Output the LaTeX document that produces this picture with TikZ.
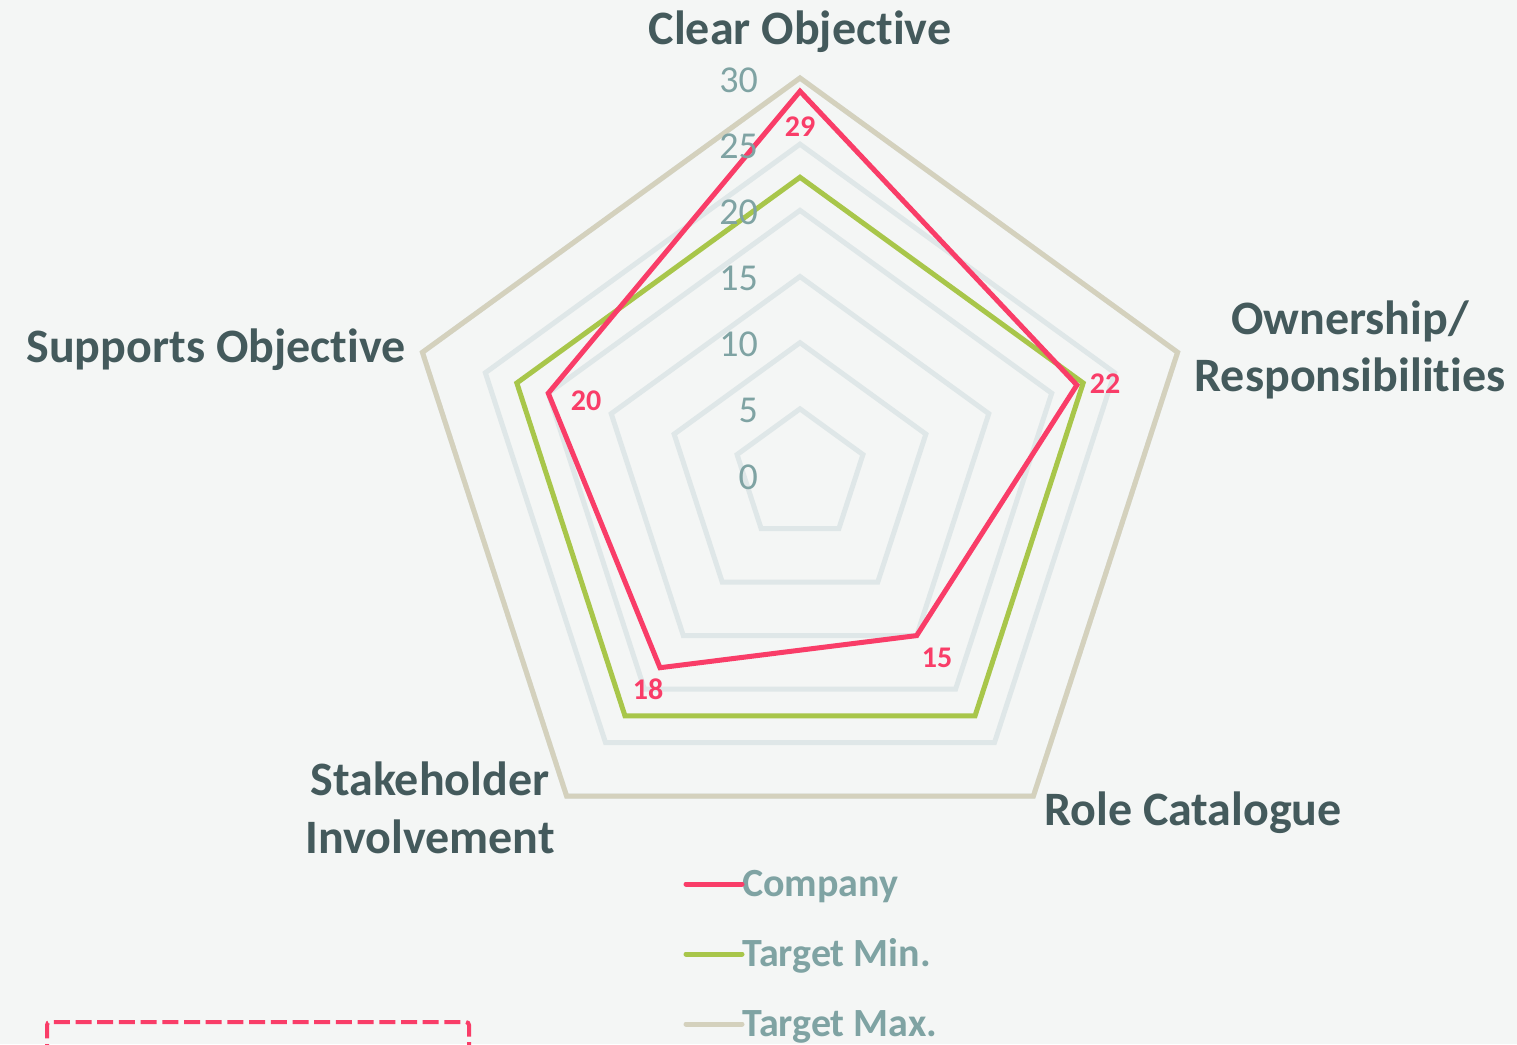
\documentclass[tikz,border=0pt]{standalone}
\usepackage{fontspec}
\setmainfont{Carlito}[Ligatures={NoCommon}]
\definecolor{bgc}{HTML}{F4F6F5}
\definecolor{gridc}{HTML}{DFE7E8}
\definecolor{pinkc}{HTML}{F93D68}
\definecolor{greenc}{HTML}{A8C64A}
\definecolor{beigec}{HTML}{D4D1BD}
\definecolor{catc}{HTML}{445A5C}
\definecolor{axc}{HTML}{7FA3A3}
\tikzset{
  gridline/.style={draw=gridc, line width=5pt},
  company/.style={draw=pinkc, line width=5pt},
  tmin/.style={draw=greenc, line width=5pt},
  tmax/.style={draw=beigec, line width=5pt},
  cat/.style={text=catc, font=\fontsize{48}{56}\selectfont\bfseries, inner sep=0pt, anchor=base, align=center},
  axlab/.style={text=axc, font=\fontsize{38}{40}\selectfont, inner sep=0pt, anchor=base east},
  dlab/.style={text=pinkc, font=\fontsize{30}{32}\selectfont\bfseries, inner sep=0pt, anchor=base},
  leglab/.style={text=axc, font=\fontsize{40}{42}\selectfont\bfseries, inner sep=0pt, anchor=base west},
  legline/.style={line width=5pt, line cap=round},
  dashbox/.style={draw=pinkc, line width=4pt, dash pattern=on 16pt off 5.7pt, rounded corners=3pt}
}
\begin{document}
\begin{tikzpicture}[x=1pt,y=-1pt]
\fill[bgc] (0,0) rectangle (1517,1044);
\useasboundingbox (0,0) rectangle (1517,1044);
\def\u{13.233}
\begin{scope}[shift={(800,475)}]
  % grid rings
  \foreach \k in {5,10,15,20,25,30}{
    \pgfmathsetmacro\r{\k*\u}
    \draw[gridline] (-90:\r) -- (-18:\r) -- (54:\r) -- (126:\r) -- (198:\r) -- cycle;
  }
  % data coordinates
  \foreach \n/\a in {1/-90,2/-18,3/54,4/126,5/198}{
    \pgfmathsetmacro\r{30*\u}
    \coordinate (x\n) at (\a:\r);
    \pgfmathsetmacro\r{22.5*\u}
    \coordinate (m\n) at (\a:\r);
  }
  \foreach \n/\a/\v in {1/-90/29,2/-18/22,3/54/15,4/126/18,5/198/20}{
    \pgfmathsetmacro\r{\v*\u}
    \coordinate (c\n) at (\a:\r);
  }
  \draw[tmax] (x1) -- (x2) -- (x3) -- (x4) -- (x5) -- cycle;
  \draw[tmin] (m1) -- (m2) -- (m3) -- (m4) -- (m5) -- cycle;
  \draw[company] (c1) -- (c2) -- (c3) -- (c4) -- (c5) -- cycle;
\end{scope}
% axis labels
\foreach \k in {0,5,10,15,20,25,30}{
  \pgfmathsetmacro\yy{489-\k*\u}
  \node[axlab] (ax\k) at (758,\yy) {\k};
}
% data labels
\node[dlab] (d1) at (800,136) {29};
\node[dlab] (d2) at (1105,393) {22};
\node[dlab] (d3) at (937,667) {15};
\node[dlab] (d4) at (648,699) {18};
\node[dlab] (d5) at (586,410) {20};
% category labels
\node[cat] (l1) at (800,44) {Clear Objective};
\node[cat] (l2a) at (1350,334) {Ownership/};
\node[cat] (l2b) at (1350,391) {Responsibilities};
\node[cat] (l3) at (1193,825) {Role Catalogue};
\node[cat] (l4a) at (430,795) {Stakeholder};
\node[cat] (l4b) at (430,853) {Involvement};
\node[cat] (l5) at (216,362) {Supports Objective};
% legend
\node[leglab] (g1) at (742,896) {Company};
\node[leglab] (g2) at (742,966) {Target Min.};
\node[leglab] (g3) at (742,1036) {Target Max.};
\coordinate (s1) at (686,884);
\coordinate (s2) at (686,954);
\coordinate (s3) at (686,1024);
\draw[legline, pinkc] (s1) -- (g1.west |- s1);
\draw[legline, greenc] (s2) -- (g2.west |- s2);
\draw[legline, beigec] (s3) -- (g3.west |- s3);
% dashed box
\coordinate (b1) at (47,1060);
\coordinate (b2) at (47,1022);
\coordinate (b3) at (469,1022);
\coordinate (b4) at (469,1060);
\draw[dashbox] (b1) -- (b2) -- (b3) -- (b4);
\end{tikzpicture}
\end{document}
